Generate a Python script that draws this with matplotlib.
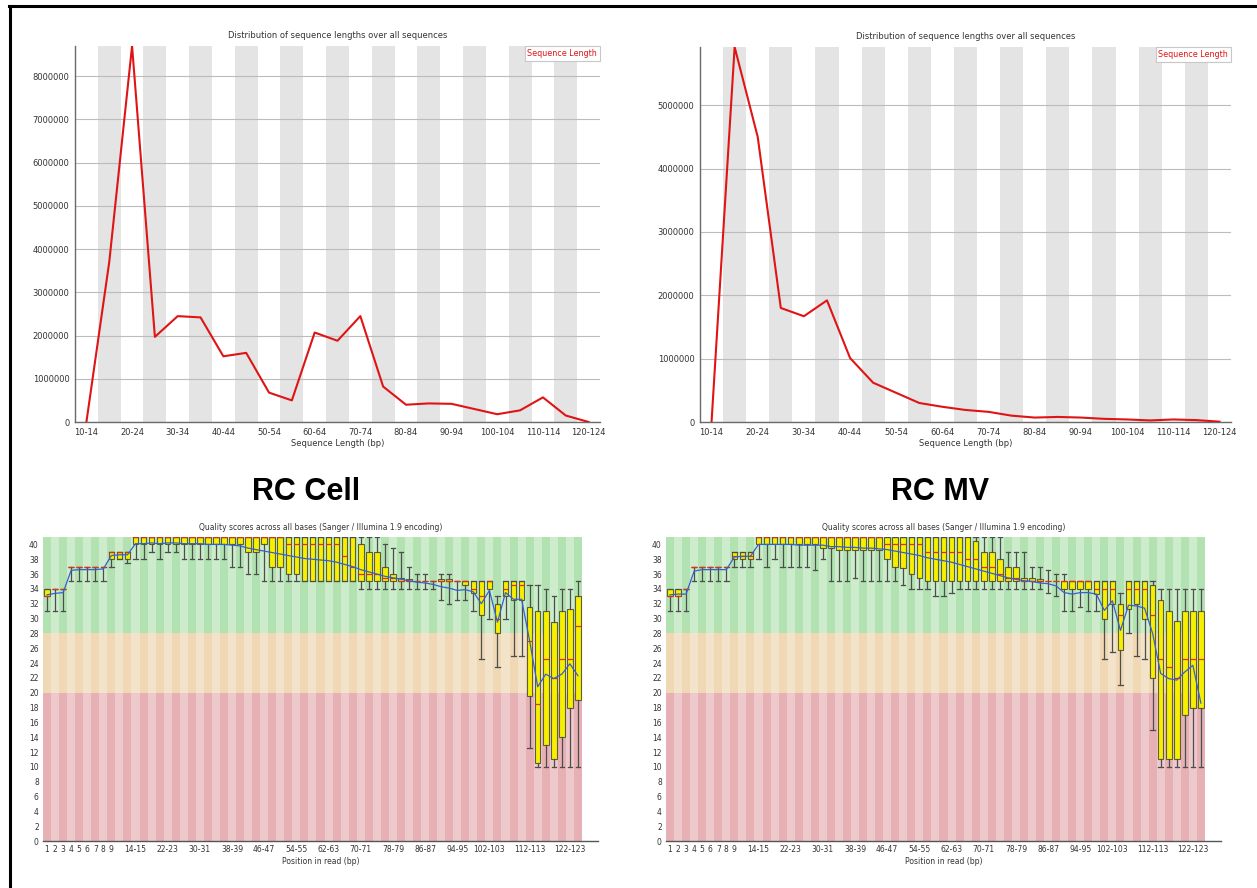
import matplotlib
matplotlib.use("Agg")
import matplotlib.pyplot as plt
from matplotlib.lines import Line2D

plt.rcParams['font.family'] = ['DejaVu Sans']

W, H = 1257, 888

# --- sequence length distribution (reads per length bin) ---
length_bins = ["10-14", "15-19", "20-24", "25-29", "30-34", "35-39", "40-44", "45-49",
               "50-54", "55-59", "60-64", "65-69", "70-74", "75-79", "80-84", "85-89",
               "90-94", "95-99", "100-104", "105-109", "110-114", "115-119", "120-124"]
cell_lengths = [0, 3700000, 8700000, 1970000, 2450000, 2420000, 1520000, 1600000,
                680000, 500000, 2070000, 1880000, 2450000, 820000, 400000, 430000,
                420000, 300000, 180000, 270000, 570000, 150000, 0]
mv_lengths = [0, 5920000, 4500000, 1800000, 1670000, 1920000, 1010000, 620000,
              460000, 300000, 240000, 190000, 160000, 100000, 70000, 80000,
              70000, 50000, 40000, 25000, 40000, 30000, 5000]

# --- per base quality, grouped positions as FastQC reports them ---
base_groups = [str(p) for p in range(1, 10)] + [f"{p}-{p + 1}" for p in range(10, 125, 2)]
base_label_idx = [0, 1, 2, 3, 4, 5, 6, 7, 8, 11, 15, 19, 23, 27, 31, 35, 39, 43, 47, 51, 55, 60, 65]

cell_med = [33, 34, 34, 37, 37, 37, 37, 37, 39, 39, 39, 41, 41, 41, 41, 41, 41, 41, 41, 41,
            41, 41, 41, 41, 41, 41, 41, 41, 41, 41, 40, 40, 40, 40, 40, 40, 40, 38.5, 37, 36,
            36, 36, 35.5, 35.5, 35, 35, 35, 35, 35, 35, 35, 35, 35, 34, 33, 35, 30, 34, 34.5, 34.5,
            27, 18.5, 24.5, 22, 24.5, 24.5, 29]
cell_q1 = [33, 34, 34, 37, 37, 37, 37, 37, 38, 38, 38, 40, 40, 40, 40, 40, 40, 40, 40, 40,
           40, 40, 40, 40, 40, 39, 39, 40, 37, 37, 36, 36, 35, 35, 35, 35, 35, 35, 35, 35,
           35, 35, 35, 35, 35, 35, 35, 35, 35, 35, 35, 35, 34.5, 33.5, 30.5, 34, 28, 33, 32.5, 32.5,
           19.5, 10.5, 13, 11, 14, 18, 19]
cell_q3 = [34, 34, 34, 37, 37, 37, 37, 37, 39, 39, 39, 41, 41, 41, 41, 41, 41, 41, 41, 41,
           41, 41, 41, 41, 41, 41, 41, 41, 41, 41, 41, 41, 41, 41, 41, 41, 41, 41, 41, 40,
           39, 39, 37, 36, 35.5, 35.3, 35, 35, 35, 35.3, 35.3, 35, 35, 35, 35, 35, 32, 35, 35, 35,
           31.5, 31, 31, 29.5, 31, 31.3, 33]
cell_lo = [31, 31, 31, 35, 35, 35, 35, 35, 37, 38, 37.5, 38, 38, 39, 38, 39, 39, 38, 38, 38,
           38, 38, 38, 37, 37, 36, 36, 35, 35, 35, 35, 35, 35, 35, 35, 35, 35, 35, 35, 34,
           34, 34, 34, 34, 34, 34, 34, 34, 34, 32.5, 32, 32.5, 32.5, 31, 24.5, 30, 23.5, 30, 25, 25,
           12.5, 10, 10, 10, 10, 10, 10]
cell_hi = [34, 34, 34, 37, 37, 37, 37, 37, 39, 39, 39, 41, 41, 41, 41, 41, 41, 41, 41, 41,
           41, 41, 41, 41, 41, 41, 41, 41, 41, 41, 41, 41, 41, 41, 41, 41, 41, 41, 41, 41,
           41, 41, 40, 39.5, 39, 37, 36, 36, 35, 36, 36, 35, 35, 35, 35, 35, 33, 35, 35, 35,
           34.5, 34.5, 34, 33, 34, 34, 35]
cell_mean = [33.2, 33.4, 33.5, 36.5, 36.6, 36.6, 36.6, 36.7, 38.5, 38.6, 38.6, 40.1, 40.1, 40.2, 40.1,
             40.2, 40.2, 40.1, 40.1, 40.1, 40.0, 40.0, 40.0, 39.9, 39.8, 39.5, 39.3, 39.1, 38.9, 38.7,
             38.5, 38.3, 38.1, 38.0, 37.9, 37.8, 37.6, 37.3, 37.0, 36.6, 36.3, 36.0, 35.7, 35.5, 35.3,
             35.1, 34.9, 34.8, 34.6, 34.3, 34.1, 33.8, 33.9, 33.6, 32.0, 33.8, 29.5, 33.5, 32.6, 32.6,
             27.0, 20.8, 22.5, 21.9, 22.5, 23.9, 22.3]

mv_med = [33, 33, 34, 37, 37, 37, 37, 37, 38.5, 38.5, 38.5, 41, 41, 41, 41, 41, 41, 41, 41, 41,
          41, 41, 41, 41, 41, 41, 41, 40, 40, 40, 40, 40, 39, 39, 39, 39, 39, 38, 38, 37,
          37, 36, 35.5, 35.5, 35, 35, 35, 35, 35, 35, 35, 35, 35, 34, 34, 34, 30.5, 34, 34, 34,
          30.5, 24.5, 23.5, 22, 24.5, 24.5, 24.5]
mv_q1 = [33, 33, 34, 37, 37, 37, 37, 37, 38, 38, 38, 40, 40, 40, 40, 40, 40, 40, 40, 39.5,
         39.5, 39.3, 39.3, 39.3, 39.3, 39.3, 39.3, 38, 37, 36.8, 36, 35.5, 35, 35, 35, 35, 35, 35, 35, 35,
         35, 35, 35, 35, 35, 35, 35, 35, 35, 34, 34, 34, 34, 33.3, 30, 32, 25.7, 31.3, 32, 30,
         22, 11, 11, 11, 17, 18, 18]
mv_q3 = [34, 34, 34, 37, 37, 37, 37, 37, 39, 39, 39, 41, 41, 41, 41, 41, 41, 41, 41, 41,
         41, 41, 41, 41, 41, 41, 41, 41, 41, 41, 41, 41, 41, 41, 41, 41, 41, 41, 40.5, 39,
         39, 38, 37, 37, 35.5, 35.5, 35.3, 35, 35, 35, 35, 35, 35, 35, 35, 35, 32, 35, 35, 35,
         34.5, 32.5, 31, 29.7, 31, 31, 31]
mv_lo = [31, 31, 31, 35, 35, 35, 35, 35, 37, 37, 37, 38, 37, 38, 37, 37, 37, 37, 36.5, 38,
         35, 35, 35, 35.5, 35, 35, 35, 35, 35, 34.5, 34, 34, 34, 33, 33, 33.5, 34, 34, 34, 34,
         34, 34, 34, 34, 34, 34, 34, 33.5, 33, 31, 31, 31.5, 31, 31, 24.5, 25.5, 21, 28, 25, 24.5,
         15, 10, 10, 10, 10, 10, 10]
mv_hi = [34, 34, 34, 37, 37, 37, 37, 37, 39, 39, 39, 41, 41, 41, 41, 41, 41, 41, 41, 41,
         41, 41, 41, 41, 41, 41, 41, 41, 41, 41, 41, 41, 41, 41, 41, 41, 41, 41, 41, 41,
         41, 41, 39, 39, 39, 37, 37, 36.5, 36, 36, 35, 35, 35, 35, 35, 35, 33.5, 35, 35, 35,
         35, 34, 34, 34, 34, 34, 34]
mv_mean = [33.2, 33.3, 33.3, 36.4, 36.6, 36.6, 36.6, 36.6, 38.3, 38.4, 38.4, 40.0, 40.0, 40.0, 40.0,
           40.0, 39.9, 39.9, 39.9, 39.9, 39.7, 39.7, 39.6, 39.6, 39.5, 39.5, 39.4, 39.3, 39.1, 38.9,
           38.7, 38.5, 38.2, 38.0, 37.8, 37.6, 37.3, 37.0, 36.7, 36.4, 36.1, 35.8, 35.5, 35.3, 35.1,
           35.0, 34.8, 34.7, 34.4, 33.5, 33.3, 33.5, 33.5, 33.3, 31.1, 32.4, 28.4, 31.8, 31.7, 31.4,
           28.0, 22.6, 21.9, 21.7, 22.8, 23.7, 18.6]


def px_axes(fig, x0, y0, x1, y1):
    return fig.add_axes([x0 / W, 1 - y1 / H, (x1 - x0) / W, (y1 - y0) / H])


def length_panel(ax, counts):
    n = len(length_bins)
    for i in range(1, n, 2):
        ax.axvspan(i - 0.5, i + 0.5, color='#e4e4e4', lw=0, zorder=0)
    line, = ax.plot(range(n), counts, color='#e01414', lw=1.5, zorder=3)
    ax.set_xlim(-0.5, n - 0.5)
    ax.set_ylim(0, max(counts))
    ax.set_yticks(range(0, max(counts) + 1, 1000000))
    ax.set_xticks(range(0, n, 2))
    ax.set_xticklabels(length_bins[::2])
    ax.ticklabel_format(axis='y', style='plain', useOffset=False)
    ax.yaxis.grid(True, color='#bcbcbc', lw=0.8)
    ax.set_axisbelow(True)
    for side in ('top', 'right'):
        ax.spines[side].set_visible(False)
    for side in ('left', 'bottom'):
        ax.spines[side].set_color('#6a6a6a')
        ax.spines[side].set_linewidth(1.0)
    ax.tick_params(length=0, labelsize=6, colors='#333333', pad=4)
    ax.set_title('Distribution of sequence lengths over all sequences', fontsize=6,
                 color='#333333', pad=6)
    ax.set_xlabel('Sequence Length (bp)', fontsize=6, color='#333333', labelpad=2)
    leg = ax.legend([line], ['Sequence Length'], loc='upper right', handlelength=0,
                    handletextpad=0, labelcolor='#e01414', fontsize=5.8, fancybox=False,
                    edgecolor='#c8c8c8', borderaxespad=0, borderpad=0.35, framealpha=1)
    leg.get_frame().set_linewidth(0.8)


def quality_panel(ax, med, q1, q3, lo, hi, mean):
    n = len(base_groups)
    pos = list(range(n))
    # red / orange / green quality zones with alternating stripes
    zones = [(0, 20, '#e6b0b5', '#edc9cc'), (20, 28, '#efd8b3', '#f2e3ca'),
             (28, 41, '#b2e2b2', '#cdeccc')]
    for y0, y1, dark, light in zones:
        colors = [dark if i % 2 == 0 else light for i in pos]
        ax.bar(pos, y1 - y0, bottom=y0, width=1.0, color=colors, lw=0, zorder=0)

    stats = [dict(med=m, q1=a, q3=b, whislo=l, whishi=h, fliers=[])
             for m, a, b, l, h in zip(med, q1, q3, lo, hi)]
    ax.bxp(stats, positions=pos, widths=0.7, patch_artist=True, showfliers=False,
           capwidths=0.55, manage_ticks=False, zorder=2,
           boxprops=dict(facecolor='#f6f000', edgecolor='#5e5e38', lw=0.8),
           medianprops=dict(color='#e0301a', lw=0.9),
           whiskerprops=dict(color='#4d4d4d', lw=0.9),
           capprops=dict(color='#4d4d4d', lw=0.9))
    ax.plot(pos, mean, color='#3560d0', lw=0.9, zorder=4)

    ax.set_xlim(-0.5, 68.5)
    ax.set_ylim(0, 41)
    ax.set_yticks(range(0, 41, 2))
    ax.set_xticks(base_label_idx)
    ax.set_xticklabels([base_groups[i] for i in base_label_idx])
    for side in ('top', 'right', 'left'):
        ax.spines[side].set_visible(False)
    ax.spines['bottom'].set_color('#555555')
    ax.spines['bottom'].set_linewidth(1.0)
    ax.tick_params(length=0, labelsize=5.5, colors='#333333', pad=3)
    ax.set_title('Quality scores across all bases (Sanger / Illumina 1.9 encoding)',
                 fontsize=5.5, color='#333333', pad=5)
    ax.set_xlabel('Position in read (bp)', fontsize=5.5, color='#333333', labelpad=2)


fig = plt.figure(figsize=(W / 100, H / 100), dpi=100)

length_panel(px_axes(fig, 75, 46, 600, 422), cell_lengths)
length_panel(px_axes(fig, 700, 47, 1231, 422), mv_lengths)

quality_panel(px_axes(fig, 43, 537, 598, 841),
              cell_med, cell_q1, cell_q3, cell_lo, cell_hi, cell_mean)
quality_panel(px_axes(fig, 666, 537, 1221, 841),
              mv_med, mv_q1, mv_q3, mv_lo, mv_hi, mv_mean)

fig.text(306 / W, 1 - 492 / H, 'RC Cell', fontsize=22, fontweight='bold',
         family='Liberation Sans', ha='center', va='center')
fig.text(940 / W, 1 - 492 / H, 'RC MV', fontsize=22, fontweight='bold',
         family='Liberation Sans', ha='center', va='center')

# frame lines along the top and left edge
fig.add_artist(Line2D([9.5 / W, 9.5 / W], [0, 1 - 6 / H], transform=fig.transFigure,
                      color='black', lw=2.2))
fig.add_artist(Line2D([8.5 / W, 1], [1 - 6 / H, 1 - 6 / H], transform=fig.transFigure,
                      color='black', lw=2.2))

fig.savefig('out.png', dpi=100)
